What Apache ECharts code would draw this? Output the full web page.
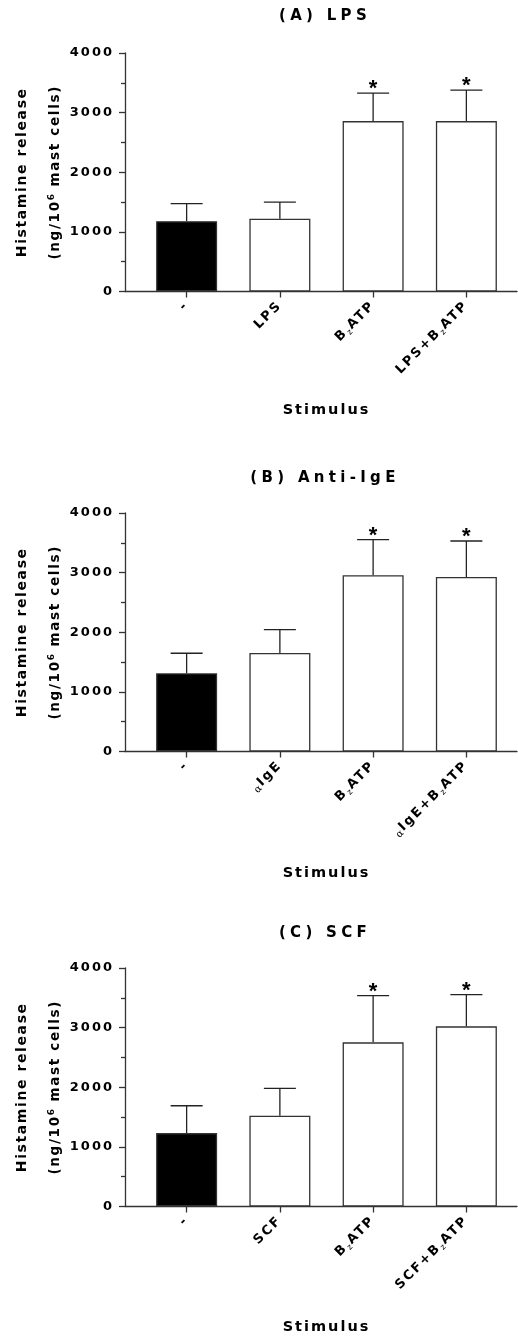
<!DOCTYPE html>
<html><head><meta charset="utf-8">
<script src="https://cdn.jsdelivr.net/npm/echarts@6/dist/echarts.min.js"></script>
<style>
html,body{margin:0;padding:0;background:#fff;}
#c{width:518px;height:1338px;}
</style></head><body><div id="c"></div>
<script>
// ---- data ----
const panelTitles = ['(A) LPS', '(B) Anti-IgE', '(C) SCF'];
const categoriesA = ['-', 'LPS', 'BzATP', 'LPS+BzATP'];
const categoriesB = ['-', 'αIgE', 'BzATP', 'αIgE+BzATP'];
const categoriesC = ['-', 'SCF', 'BzATP', 'SCF+BzATP'];
const meanA = [1180, 1220, 2858, 2858];
const semA  = [295, 280, 470, 520];
const meanB = [1312, 1653, 2955, 2927];
const semB  = [336, 392, 598, 603];
const meanC = [1231, 1522, 2753, 3021];
const semC  = [459, 459, 783, 532];
const sigA = ['', '', '*', '*'];
const sigB = ['', '', '*', '*'];
const sigC = ['', '', '*', '*'];
const yMin = 0, yMax = 4000, yStep = 1000;
const yNameLine1 = 'Histamine release';
const yNameLine2 = ['(ng/10', '6', ' mast cells)'];
const xName = 'Stimulus';

// ---- letter spacing by font size (style only) ----
const SPACING = {'15': 4.3, '14.5': 2, '14': 1.6, '13.5': 1.7, '13': 2, '10': 1, '9': 1, '8': 1};
function spacingFor(font) {
  const m = /(\d+(?:\.\d+)?)px/.exec(font || '');
  return m ? (SPACING[m[1]] || 0) : 0;
}
const fontDesc = Object.getOwnPropertyDescriptor(CanvasRenderingContext2D.prototype, 'font');
Object.defineProperty(CanvasRenderingContext2D.prototype, 'font', {
  configurable: true,
  get() { return fontDesc.get.call(this); },
  set(v) {
    fontDesc.set.call(this, v);
    if ('letterSpacing' in this && !this.__noSpacing) this.letterSpacing = spacingFor(v) + 'px';
  }
});
const mctx = document.createElement('canvas').getContext('2d');
mctx.__noSpacing = true;
echarts.setPlatformAPI({
  measureText(text, font) {
    mctx.font = font;
    if ('letterSpacing' in mctx) mctx.letterSpacing = '0px';
    const w = mctx.measureText(text).width;
    return { width: w + spacingFor(font) * String(text).length };
  }
});

const FF = '"DejaVu Sans", Verdana, sans-serif';
const AX = '#333';

const panels = [
  {title: panelTitles[0], cats: categoriesA, mean: meanA, sem: semA, sig: sigA, top: 53, titleY: 16, nameGap: 111},
  {title: panelTitles[1], cats: categoriesB, mean: meanB, sem: semB, sig: sigB, top: 513, titleY: 478, nameGap: 114},
  {title: panelTitles[2], cats: categoriesC, mean: meanC, sem: semC, sig: sigC, top: 968, titleY: 933, nameGap: 113}
];
const plotH = 238.5;

function fmtLabel(v) {
  return v.split(/(α|z(?=ATP))/).filter(s => s).map(s =>
    s === 'α' ? '{al|α}' : s === 'z' ? '{z|z}' : '{b|' + s + '}').join('');
}

const option = {
  backgroundColor: '#fff',
  animation: false,
  title: [], grid: [], xAxis: [], yAxis: [], series: []
};

panels.forEach((p, k) => {
  option.title.push({
    text: p.title, left: 325, top: p.titleY - 9, padding: 0, textAlign: 'center',
    textStyle: {fontFamily: FF, fontSize: 15, fontWeight: 'bold', color: '#000', lineHeight: 18}
  });
  option.grid.push({left: 140, right: 5, top: p.top, height: plotH, outerBoundsMode: 'none', containLabel: false});
  option.grid.push({left: 125, right: 1, top: p.top, height: plotH, outerBoundsMode: 'none', containLabel: false});
  const gb = 2 * k, ga = 2 * k + 1;
  option.xAxis.push({
    gridIndex: gb, type: 'category', data: p.cats,
    axisLine: {show: false},
    axisTick: {show: true, alignWithLabel: true, length: 6, lineStyle: {color: AX, width: 1.3}},
    axisLabel: {
      rotate: 45, margin: 12, interval: 0, formatter: fmtLabel,
      rich: {
        b: {fontFamily: FF, fontSize: 13, fontWeight: 'bold', color: '#000', lineHeight: 17},
        z: {fontFamily: FF, fontSize: 8, fontWeight: 'normal', color: '#000', lineHeight: 8, verticalAlign: 'bottom'},
        al: {fontFamily: 'DejaVu Serif, serif', fontSize: 10, fontWeight: 'normal', color: '#000', lineHeight: 10, verticalAlign: 'bottom'}
      }
    },
    name: xName, nameLocation: 'middle', nameGap: p.nameGap,
    nameTextStyle: {fontFamily: FF, fontSize: 14.5, fontWeight: 'bold', color: '#000', lineHeight: 16},
    splitLine: {show: false}
  });
  option.xAxis.push({
    gridIndex: ga, type: 'value', min: 0, max: 1,
    axisLine: {show: true, lineStyle: {color: AX, width: 1.3}},
    axisTick: {show: false}, axisLabel: {show: false}, splitLine: {show: false}
  });
  option.yAxis.push({
    gridIndex: gb, type: 'value', min: yMin, max: yMax, interval: yStep,
    axisLine: {show: false}, axisTick: {show: false}, axisLabel: {show: false}, splitLine: {show: false},
    name: '{a|' + yNameLine2[0] + '}{s|' + yNameLine2[1] + '}{a|' + yNameLine2[2] + '}',
    nameLocation: 'middle', nameRotate: 90, nameGap: 77,
    nameTextStyle: {
      rich: {
        a: {fontFamily: FF, fontSize: 13.5, fontWeight: 'bold', color: '#000', lineHeight: 16, verticalAlign: 'bottom'},
        s: {fontFamily: FF, fontSize: 9, fontWeight: 'bold', color: '#000', lineHeight: 9, verticalAlign: 'top', padding: [0, 0, 12, 0]}
      }
    }
  });
  option.yAxis.push({
    gridIndex: ga, type: 'value', min: yMin, max: yMax, interval: yStep,
    axisLine: {show: true, lineStyle: {color: AX, width: 1.3}},
    axisTick: {show: true, length: 6, lineStyle: {color: AX, width: 1.3}},
    minorTick: {show: true, splitNumber: 2, length: 4, lineStyle: {color: AX, width: 1.3}},
    splitLine: {show: false},
    axisLabel: {margin: 11, fontFamily: FF, fontSize: 13, fontWeight: 'bold', color: '#000', formatter: v => String(v)},
    name: yNameLine1, nameLocation: 'middle', nameRotate: 90, nameGap: 95,
    nameTextStyle: {fontFamily: FF, fontSize: 14, fontWeight: 'bold', color: '#000', lineHeight: 16}
  });
  option.series.push({
    type: 'bar', xAxisIndex: 2 * k, yAxisIndex: 2 * k, barWidth: 61,
    data: p.mean.map((v, i) => ({value: v, itemStyle: {color: i === 0 ? '#000' : '#fff'}})),
    itemStyle: {borderColor: AX, borderWidth: 1.3}
  });
  const sig = p.sig;
  option.series.push({
    type: 'custom', xAxisIndex: 2 * k, yAxisIndex: 2 * k,
    data: p.mean.map((v, i) => [i, v, v + p.sem[i]]),
    renderItem(params, api) {
      const i = api.value(0);
      const b = api.coord([i, api.value(1)]);
      const t = api.coord([i, api.value(2)]);
      const half = 16;
      const ls = {stroke: '#222', lineWidth: 1.3};
      const ch = [
        {type: 'line', shape: {x1: b[0], y1: b[1], x2: t[0], y2: t[1]}, style: ls},
        {type: 'line', shape: {x1: t[0] - half, y1: t[1], x2: t[0] + half, y2: t[1]}, style: ls}
      ];
      if (sig[params.dataIndex]) {
        ch.push({type: 'text', x: t[0], y: t[1] - 4, style: {
          text: sig[params.dataIndex], fontFamily: 'Liberation Sans, Arial, sans-serif', fontSize: 22, fontWeight: 'bold', fill: '#000',
          align: 'center', verticalAlign: 'middle'
        }});
      }
      return {type: 'group', children: ch};
    }
  });
});

const chart = echarts.init(document.getElementById('c'), null, {renderer: 'canvas'});
chart.setOption(option);
</script></body></html>
